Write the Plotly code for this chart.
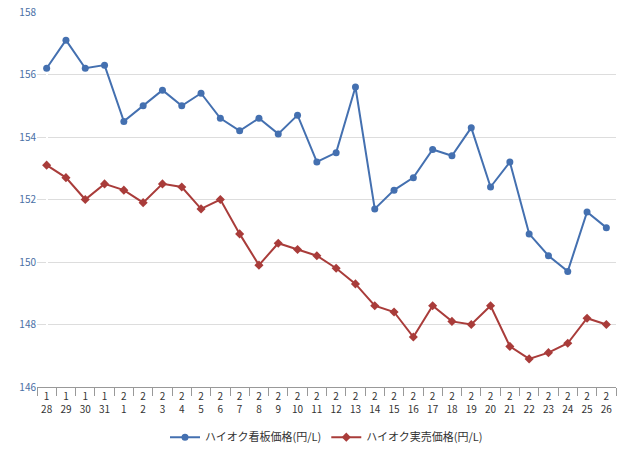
import plotly.graph_objects as go

months = [1] * 4 + [2] * 26
days = [28, 29, 30, 31] + list(range(1, 27))
labels = [f"{m}<br>{d}" for m, d in zip(months, days)]

signboard = [156.2, 157.1, 156.2, 156.3, 154.5, 155.0, 155.5, 155.0, 155.4, 154.6,
             154.2, 154.6, 154.1, 154.7, 153.2, 153.5, 155.6, 151.7, 152.3, 152.7,
             153.6, 153.4, 154.3, 152.4, 153.2, 150.9, 150.2, 149.7, 151.6, 151.1]
actual = [153.1, 152.7, 152.0, 152.5, 152.3, 151.9, 152.5, 152.4, 151.7, 152.0,
          150.9, 149.9, 150.6, 150.4, 150.2, 149.8, 149.3, 148.6, 148.4, 147.6,
          148.6, 148.1, 148.0, 148.6, 147.3, 146.9, 147.1, 147.4, 148.2, 148.0]

xs = list(range(len(labels)))

fig = go.Figure()
fig.add_trace(go.Scatter(x=xs, y=signboard, name="ハイオク看板価格(円/L)",
                         mode="lines+markers", line=dict(color="#4470b0", width=2),
                         marker=dict(symbol="circle", size=7)))
fig.add_trace(go.Scatter(x=xs, y=actual, name="ハイオク実売価格(円/L)",
                         mode="lines+markers", line=dict(color="#a93c3a", width=2),
                         marker=dict(symbol="diamond", size=7)))

fig.update_layout(
    width=640, height=462,
    plot_bgcolor="white", paper_bgcolor="white",
    margin=dict(l=29, r=32, t=4, b=83, autoexpand=False),
    font=dict(family="Noto Sans CJK JP, sans-serif", size=11, color="#333"),
    legend=dict(orientation="h", x=0.5, xanchor="center", y=-0.095, yanchor="top",
                font=dict(size=11)),
    xaxis=dict(range=[-0.5, len(xs) - 0.5], tickvals=xs, ticktext=labels,
               tickangle=0, showgrid=False, showline=True, linecolor="#999",
               ticks="", tickfont=dict(size=10, color="#333"),
               minor=dict(tickvals=[i - 0.5 for i in range(len(xs) + 1)],
                          ticks="outside", ticklen=8, tickcolor="#999")),
    yaxis=dict(range=[146, 158], dtick=2, showgrid=True, gridcolor="#ddd",
               zeroline=False, ticklabeloverflow="allow",
               tickfont=dict(size=10, color="#4a6fa5")),
)

fig.write_html("out.html")
